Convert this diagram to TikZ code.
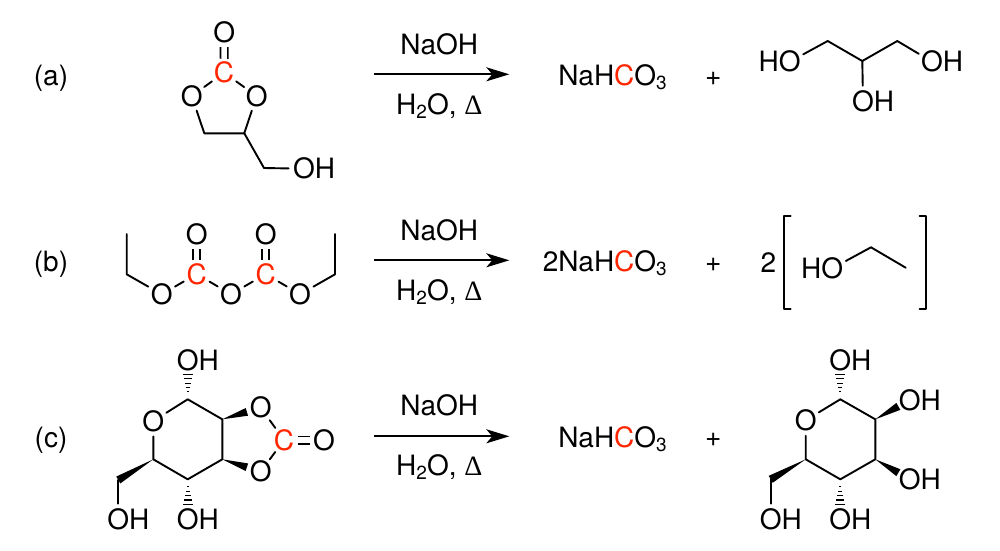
\documentclass[tikz,border=0pt]{standalone}
\usepackage{fontspec}
\setmainfont{TeX Gyre Heros}
\newfontfamily\symfont{Liberation Serif}
\usetikzlibrary{calc,arrows.meta}
\definecolor{atomred}{RGB}{255,38,0}

\newcommand{\subnum}[1]{\raisebox{-4.5pt}{\fontsize{19}{19}\selectfont #1}}
\newcommand{\heat}{{\symfont Δ}}
\newcommand{\wedgebond}[3]{
    \coordinate (wtip) at ($(#1)!#3!(#2)$);
    \fill (#1) -- ($(wtip)!4pt!90:(#1)$) -- ($(wtip)!4pt!-90:(#1)$) -- cycle;
}
\newcommand{\hashbond}[2]{
    \foreach \hf/\hw in {.19/1,.30/2,.41/3,.52/4,.64/5}{
        \coordinate (hmid) at ($(#1)!\hf!(#2)$);
        \draw[line width=1.1pt] ($(hmid)!\hw pt!90:(#2)$) -- ($(hmid)!\hw pt!-90:(#2)$);
    }
}

\begin{document}
\begin{tikzpicture}[x=1pt,y=-1pt]
        \tikzstyle{every node}=[font=\fontsize{28}{32}\selectfont, text=black]
        \tikzstyle{atom}=[circle, inner sep=0pt]
        \tikzstyle{redatom}=[atom, text=atomred]
        \tikzstyle{label}=[anchor=base, inner sep=0pt]
        \tikzstyle{bond}=[line width=1.9pt, line cap=round, line join=round]
        \tikzstyle{dbl}=[double=white, double distance=5.4pt, line width=1.8pt, shorten <=-1pt, shorten >=-1pt]
        \tikzstyle{rxn}=[line width=1.9pt, -{Stealth[length=23pt,width=14pt,inset=6pt]}]

        \useasboundingbox (0,0) rectangle (1000,550);

        \node[label](la)at(51,85){(a)};
        \node[label](lb)at(51,271){(b)};
        \node[label](lc)at(51,447){(c)};

        \node[atom](a1)at(224.3,32.7){O};
        \node[redatom](a2)at(224,72.7){C};
        \node[atom](a3)at(191.7,96){O};
        \node[atom](a4)at(256.7,96){O};
        \coordinate(a5)at(204.3,133.3);
        \coordinate(a6)at(244.3,133.3);
        \coordinate(a7)at(264,168);
        \node[atom](a8)at(304,168.7){O\rlap{H}};
        \draw[dbl] (a1) -- (a2);
        \draw[bond] (a2) -- (a3);
        \draw[bond] (a2) -- (a4);
        \draw[bond] (a3) -- (a5) -- (a6) -- (a4);
        \draw[bond] (a6) -- (a7) -- (a8);

        \coordinate(b1)at(126.7,234);
        \coordinate(b2)at(126.7,274.3);
        \node[atom](b3)at(161.7,294.3){O};
        \node[redatom](b4)at(196.7,274){C};
        \node[atom](b5)at(196.7,234.7){O};
        \node[atom](b6)at(231,294.3){O};
        \node[redatom](b7)at(265.7,274){C};
        \node[atom](b8)at(265.7,234.7){O};
        \node[atom](b9)at(300,294.3){O};
        \coordinate(b10)at(335,274.3);
        \coordinate(b11)at(335,234);
        \draw[bond] (b1) -- (b2) -- (b3);
        \draw[bond] (b3) -- (b4);
        \draw[bond] (b4) -- (b6);
        \draw[bond] (b6) -- (b7);
        \draw[bond] (b7) -- (b9);
        \draw[bond] (b9) -- (b10) -- (b11);
        \draw[dbl] (b5) -- (b4);
        \draw[dbl] (b8) -- (b7);

        \node[atom](c1)at(187.7,360){O\rlap{H}};
        \coordinate(c2)at(187.7,399.3);
        \coordinate(c3)at(222.3,419.3);
        \coordinate(c4)at(222.3,459.3);
        \coordinate(c5)at(187.7,479.3);
        \coordinate(c6)at(153.3,459.3);
        \node[atom](c7)at(153.3,421){O};
        \coordinate(c8)at(118.3,480);
        \node[atom](c9)at(118.3,519){O\rlap{H}};
        \node[atom](c10)at(187.7,519){O\rlap{H}};
        \node[atom](c11)at(260.7,407.7){O};
        \node[atom](c12)at(260.7,471.7){O};
        \node[redatom](c13)at(284,440){C};
        \node[atom](c14)at(324,440){O};
        \draw[bond] (c7) -- (c2) -- (c3) -- (c4) -- (c5) -- (c6) -- (c7);
        \draw[bond] (c8) -- (c9);
        \draw[bond] (c11) -- (c13);
        \draw[bond] (c12) -- (c13);
        \draw[dbl] (c13) -- (c14);
        \hashbond{c2}{c1}
        \hashbond{c5}{c10}
        \wedgebond{c3}{c11}{.64}
        \wedgebond{c4}{c12}{.64}
        \wedgebond{c6}{c8}{1}

        \coordinate(r1s)at(374.3,74.3);
        \coordinate(r1e)at(509.3,74.3);
        \coordinate(r2s)at(374.3,260.3);
        \coordinate(r2e)at(509.3,260.3);
        \coordinate(r3s)at(374.3,436.3);
        \coordinate(r3e)at(509.3,436.3);
        \draw[rxn] (r1s) -- (r1e);
        \draw[rxn] (r2s) -- (r2e);
        \draw[rxn] (r3s) -- (r3e);

        \node[label](n1)at(439.3,54){NaOH};
        \node[label](n2)at(439.3,240){NaOH};
        \node[label](n3)at(439.3,415){NaOH};
        \node[label](w1)at(439.3,114){H\subnum{2}O, \heat};
        \node[label](w2)at(439.3,300){H\subnum{2}O, \heat};
        \node[label](w3)at(439.3,475){H\subnum{2}O, \heat};

        \node[label,anchor=base east](p1)at(667,85){NaH\textcolor{atomred}{C}O\subnum{3}};
        \node[label,anchor=base east](p2)at(667,271){2NaH\textcolor{atomred}{C}O\subnum{3}};
        \node[label,anchor=base east](p3)at(667,447){NaH\textcolor{atomred}{C}O\subnum{3}};
        \node[label](pl1)at(713.3,85){+};
        \node[label](pl2)at(713.3,271){+};
        \node[label](pl3)at(713.3,446){+};

        \node[atom](d1)at(789.7,61.7){\llap{H}O};
        \coordinate(d2)at(827.7,41);
        \coordinate(d3)at(862.3,61);
        \coordinate(d4)at(897.3,41);
        \node[atom](d5)at(932,61.7){O\rlap{H}};
        \node[atom](d6)at(863,101){O\rlap{H}};
        \draw[bond] (d1) -- (d2) -- (d3) -- (d4) -- (d5);
        \draw[bond] (d3) -- (d6);

        \node[label](e0)at(768.3,272){2};
        \node[atom](e1)at(832.3,268.3){\llap{H}O};
        \coordinate(e2)at(871,247.3);
        \coordinate(e3)at(905.7,267.7);
        \draw[bond] (e1) -- (e2) -- (e3);
        \draw[bond] (790.7,215.7) -- (784,215.7) -- (784,309) -- (790.7,309);
        \draw[bond] (919.5,215.7) -- (926,215.7) -- (926,309) -- (919.5,309);

        \node[atom](f1)at(840.3,360){O\rlap{H}};
        \coordinate(f2)at(840.3,399.3);
        \coordinate(f3)at(875.3,419.3);
        \coordinate(f4)at(875.3,459.3);
        \coordinate(f5)at(840.3,479.3);
        \coordinate(f6)at(805.7,459.3);
        \node[atom](f7)at(805.7,420.3){O};
        \coordinate(f8)at(770.7,479.3);
        \node[atom](f9)at(770.7,519){O\rlap{H}};
        \node[atom](f10)at(840.3,519){O\rlap{H}};
        \node[atom](f11)at(909.7,400){O\rlap{H}};
        \node[atom](f12)at(909.7,479.3){O\rlap{H}};
        \draw[bond] (f7) -- (f2) -- (f3) -- (f4) -- (f5) -- (f6) -- (f7);
        \draw[bond] (f8) -- (f9);
        \hashbond{f2}{f1}
        \hashbond{f5}{f10}
        \wedgebond{f3}{f11}{.67}
        \wedgebond{f4}{f12}{.67}
        \wedgebond{f6}{f8}{1}
    \end{tikzpicture}
\end{document}
